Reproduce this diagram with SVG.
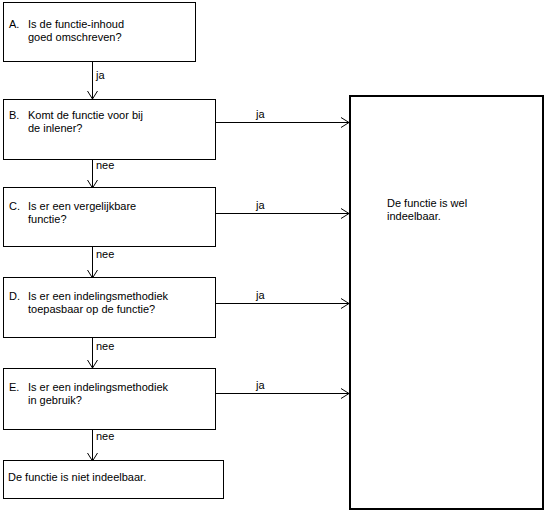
<svg xmlns="http://www.w3.org/2000/svg" width="545" height="513" viewBox="0 0 545 513">
<defs>
<marker id="arr" markerWidth="10" markerHeight="12" refX="9" refY="6" orient="auto" markerUnits="userSpaceOnUse">
<path d="M1,1 L9,6 L1,11" fill="none" stroke="#000" stroke-width="1"/>
</marker>
</defs>
<style>
text{font-family:"Liberation Sans",Arial,sans-serif;font-size:11px;fill:#000}
.box{fill:#fff;stroke:#000;stroke-width:1}
.big{fill:#fff;stroke:#000;stroke-width:2}
.con{stroke:#000;stroke-width:1;fill:none;marker-end:url(#arr)}
</style>
<rect width="545" height="513" fill="#fff"/>
<g id="connectors">
<line class="con" x1="92.5" y1="62" x2="92.5" y2="99"/>
<line class="con" x1="92.5" y1="160" x2="92.5" y2="188"/>
<line class="con" x1="92.5" y1="247" x2="92.5" y2="278"/>
<line class="con" x1="92.5" y1="338" x2="92.5" y2="368"/>
<line class="con" x1="92.5" y1="430" x2="92.5" y2="461"/>
<line class="con" x1="215" y1="122.5" x2="349" y2="122.5"/>
<line class="con" x1="215" y1="213.5" x2="349" y2="213.5"/>
<line class="con" x1="215" y1="303.5" x2="349" y2="303.5"/>
<line class="con" x1="215" y1="393.5" x2="349" y2="393.5"/>
<text x="96" y="79">ja</text>
<text x="96" y="169">nee</text>
<text x="96" y="258">nee</text>
<text x="96" y="350">nee</text>
<text x="96" y="440">nee</text>
<text x="256" y="118">ja</text>
<text x="256" y="209">ja</text>
<text x="256" y="299">ja</text>
<text x="256" y="389">ja</text>
</g>
<g id="A">
<rect class="box" x="3.5" y="2.5" width="192" height="59"/>
<text x="9" y="28">A.</text>
<text x="28" y="28">Is de functie-inhoud</text>
<text x="28" y="41">goed omschreven?</text>
</g>
<g id="B">
<rect class="box" x="3.5" y="99.5" width="212" height="60"/>
<text x="9" y="119">B.</text>
<text x="28" y="119">Komt de functie voor bij</text>
<text x="28" y="132">de inlener?</text>
</g>
<g id="C">
<rect class="box" x="3.5" y="187.5" width="212" height="59"/>
<text x="9" y="210">C.</text>
<text x="28" y="210">Is er een vergelijkbare</text>
<text x="28" y="223">functie?</text>
</g>
<g id="D">
<rect class="box" x="3.5" y="277.5" width="212" height="60"/>
<text x="9" y="300">D.</text>
<text x="28" y="300">Is er een indelingsmethodiek</text>
<text x="28" y="313">toepasbaar op de functie?</text>
</g>
<g id="E">
<rect class="box" x="3.5" y="368.5" width="212" height="61"/>
<text x="9" y="391">E.</text>
<text x="28" y="391">Is er een indelingsmethodiek</text>
<text x="28" y="404">in gebruik?</text>
</g>
<g id="F">
<rect class="box" x="3.5" y="460.5" width="220" height="38"/>
<text x="8" y="481">De functie is niet indeelbaar.</text>
</g>
<g id="G">
<rect class="big" x="350" y="96" width="193" height="413"/>
<text x="387" y="207">De functie is wel</text>
<text x="387" y="220">indeelbaar.</text>
</g>
</svg>
